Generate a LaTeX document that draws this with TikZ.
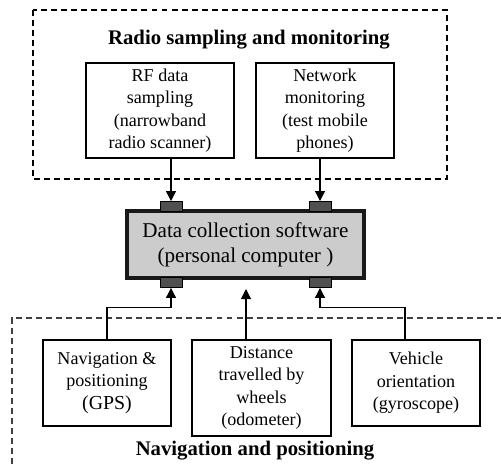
\documentclass[tikz,border=0pt]{standalone}
\usepackage{fontspec}
\setmainfont{Liberation Serif}
\usetikzlibrary{arrows.meta,calc}
\definecolor{portcolor}{HTML}{505050}
\definecolor{pcfill}{HTML}{CCCCCC}
\tikzset{
  unit box/.style={draw,line width=.6pt,align=center,inner sep=0pt,font=\fontsize{10.3}{12.8}\selectfont},
  pc box/.style={draw=black!90,line width=2pt,fill=pcfill,align=center,inner sep=0pt,font=\fontsize{12}{14.2}\selectfont},
  group frame/.style={line width=.6pt,dash pattern=on 3.4pt off 2.3pt},
  group title/.style={font=\fontsize{11.8}{13}\selectfont\bfseries},
  port/.style={draw,fill=portcolor,line width=.5pt,minimum width=.44cm,minimum height=.2cm,inner sep=0pt},
  feed/.style={line width=.6pt,-{Triangle[length=2mm,width=2mm]}}
}
\begin{document}
\begin{tikzpicture}[x=.02cm,y=-.02cm]
  \useasboundingbox (0,0) rectangle (501,464);
  % radio group
  \draw[group frame] (33,10) rectangle (447,179);
  \node[group title] (radiotitle) at (249,40) {Radio sampling and monitoring};
  \node[unit box,minimum width=2.96cm,minimum height=1.9cm] (rf) at (160,110.5)
    {RF data\\sampling\\(narrowband\\radio scanner)};
  \node[unit box,minimum width=2.76cm,minimum height=1.9cm] (net) at (325,110.5)
    {Network\\monitoring\\(test mobile\\phones)};
  % computer
  \node[pc box,minimum width=4.74cm,minimum height=1.34cm] (pc) at (245.5,244.5)
    {Data collection software\\(personal computer )};
  \node[port] (ptl) at (171,206.5) {};
  \node[port] (ptr) at (320,206.5) {};
  \node[port] (pbl) at (171,282.5) {};
  \node[port] (pbr) at (320,282.5) {};
  % navigation group
  \draw[group frame,black!75] (12,464) -- (12,318) -- (501,318);
  \node[unit box,minimum width=2.56cm,minimum height=1.72cm] (nav) at (107,383)
    {Navigation \&\\positioning\\{\fontsize{11.3}{13}\selectfont(GPS)}};
  \node[unit box,minimum width=2.78cm,minimum height=1.92cm] (dist) at (261.5,388)
    {Distance\\travelled by\\wheels\\(odometer)};
  \node[unit box,minimum width=2.56cm,minimum height=1.72cm] (veh) at (416,383)
    {Vehicle\\orientation\\(gyroscope)};
  \node[group title] (navtitle) at (255,451) {Navigation and positioning};
  % connectors
  \coordinate (pcin) at (246,289);
  \draw[feed] (rf.south -| ptl) -- (ptl.north);
  \draw[feed] (net.south -| ptr) -- (ptr.north);
  \draw[feed] (nav.north) -- ++(0,-32) -| (pbl.south);
  \draw[feed] (dist.north -| pcin) -- (pcin);
  \draw[feed] ($(veh.north)+(-11,0)$) -- ++(0,-32) -| (pbr.south);
\end{tikzpicture}
\end{document}
